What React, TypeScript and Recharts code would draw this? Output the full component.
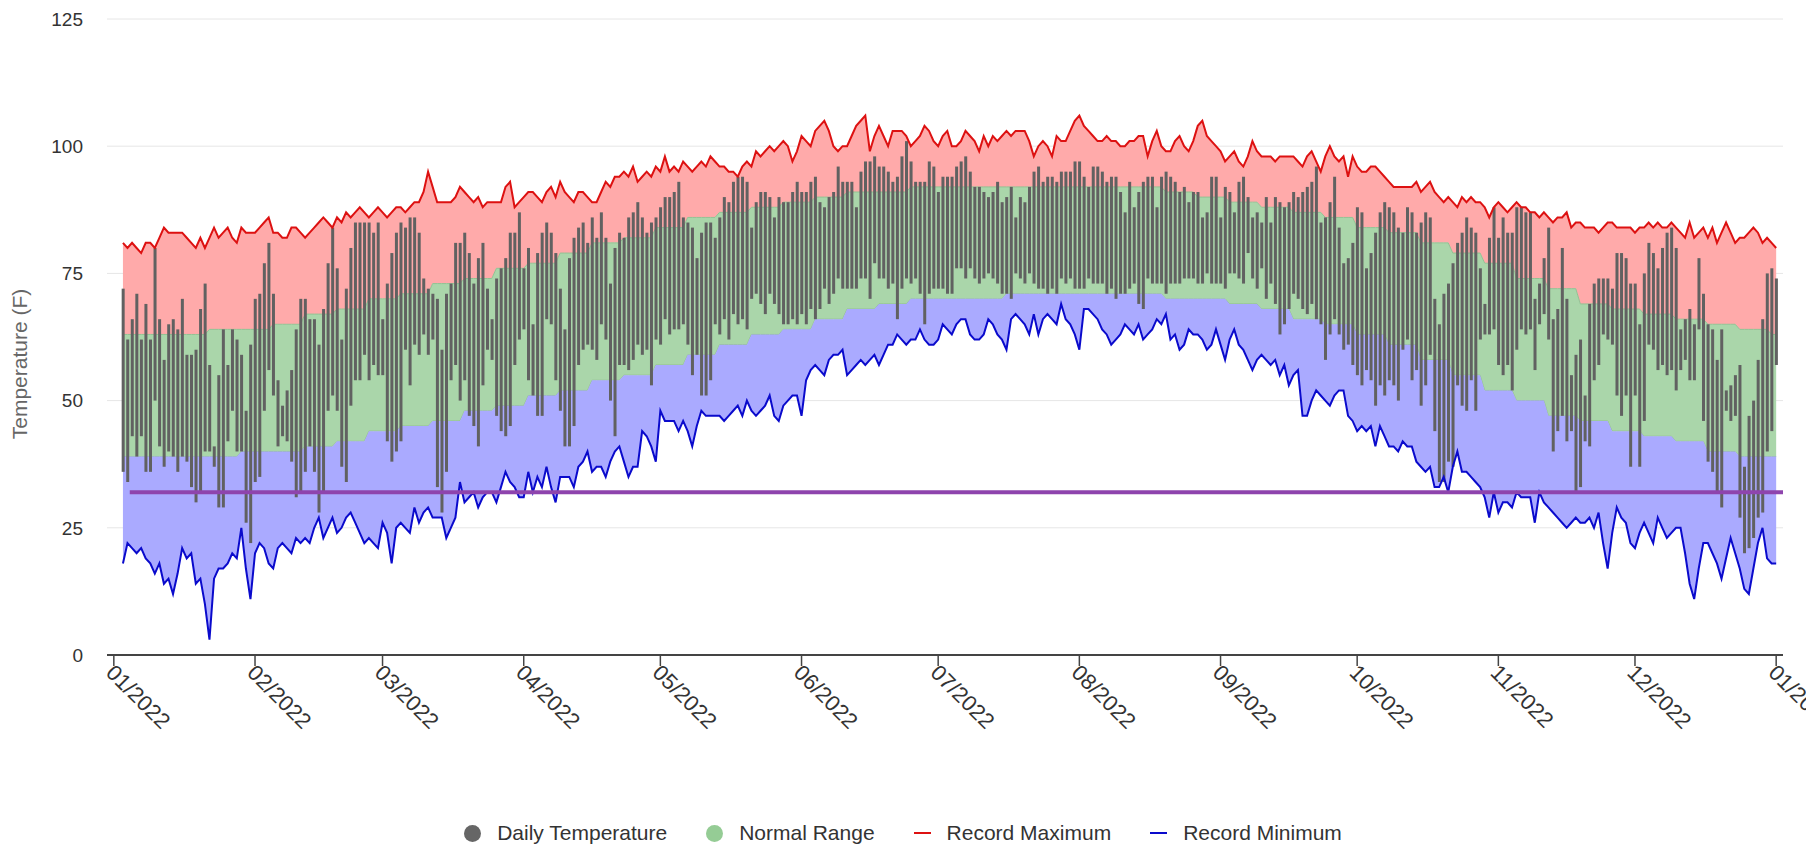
import React from 'react';
import { ComposedChart, Area, Bar, Line, XAxis, YAxis, CartesianGrid, ReferenceLine } from 'recharts';

// month boundaries (days since 01/01/2022) used for the x ticks
const MONTH_STARTS = [0, 31, 59, 90, 120, 151, 181, 212, 243, 273, 304, 334, 365];
const MONTH_LABELS = [
  '01/2022', '02/2022', '03/2022', '04/2022', '05/2022', '06/2022', '07/2022',
  '08/2022', '09/2022', '10/2022', '11/2022', '12/2022', '01/2023',
];
const Y_TICKS = [0, 25, 50, 75, 100, 125];
const FREEZING = 32;
const FIRST_DAY = 2;

// record highs, one per day (Jan 3 .. Dec 31)
const RECORD_MAX = [
  81, 80, 81, 80, 79, 81, 81, 80, 82, 84, 83, 83, 83, 83, 82, 81, 80, 82, 80, 82, 84, 82, 83, 84, 82, 81, 84, 83, 83, 83, 84, 85, 86, 83,
  83, 82, 82, 84, 84, 83, 82, 83, 84, 85, 86, 85, 84, 86, 85, 87, 86, 87, 88, 87, 86, 87, 88, 87, 86, 87, 88, 88, 87, 88, 89, 89, 91, 95, 92, 89, 89,
  89, 89, 90, 92, 91, 90, 89, 90, 88, 89, 89, 89, 89, 92, 93, 88, 89, 90, 91, 91, 90, 89, 91, 92, 90, 93, 91, 90, 89, 91, 91, 90, 89, 89, 91, 93, 92, 94,
  94, 95, 94, 96, 93, 94, 95, 94, 96, 95, 98, 95, 96, 95, 97, 96, 95, 96, 97, 96, 98, 97, 96, 96, 95, 95, 94, 96, 97, 96, 99, 98, 99, 100, 99, 100, 101,
  100, 97, 99, 102, 101, 100, 103, 104, 105, 103, 100, 99, 100, 100, 102, 104, 105, 106, 99, 102, 104, 102, 100, 103, 103, 103, 102, 100, 101, 102, 104, 103, 101, 100, 102, 103, 100,
  100, 101, 103, 102, 101, 99, 102, 100, 102, 101, 102, 103, 102, 103, 103, 103, 101, 98, 100, 101, 100, 98, 102, 101, 101, 103, 105, 106, 104, 103, 102, 101, 101, 102, 101, 101, 100,
  100, 101, 101, 102, 102, 98, 101, 103, 100, 99, 99, 101, 102, 100, 99, 101, 104, 105, 102, 101, 100, 99, 97, 98, 99, 97, 96, 98, 101, 99, 98, 98, 98, 97, 98, 98, 98,
  98, 97, 96, 98, 99, 97, 95, 98, 100, 98, 97, 98, 94, 98, 96, 95, 95, 96, 96, 95, 94, 93, 92, 92, 92, 92, 92, 93, 91, 92, 93, 91, 90, 89, 90, 89, 88, 90,
  89, 90, 89, 89, 88, 86, 88, 89, 88, 87, 88, 89, 88, 88, 87, 87, 86, 87, 86, 85, 86, 86, 87, 84, 85, 85, 84, 84, 84, 83, 84, 85, 85, 84, 84, 84, 84,
  83, 84, 84, 85, 84, 85, 84, 84, 85, 84, 83, 82, 85, 82, 83, 84, 82, 84, 81, 83, 85, 83, 81, 82, 82, 83, 84, 83, 81, 82, 81, 80,
];

// record lows, one per day
const RECORD_MIN = [
  18, 22, 21, 20, 21, 19, 18, 16, 18, 14, 15, 12, 16, 21, 19, 20, 14, 15, 10, 3, 15, 17, 17, 18, 20, 19, 25, 17, 11, 20, 22, 21, 18, 17,
  21, 22, 21, 20, 23, 22, 23, 22, 25, 27, 23, 25, 27, 24, 25, 27, 28, 26, 24, 22, 23, 22, 21, 26, 24, 18, 25, 26, 25, 24, 29, 26, 28, 29, 27, 27, 27,
  23, 25, 27, 34, 30, 31, 32, 29, 31, 32, 32, 30, 33, 36, 34, 33, 31, 31, 36, 32, 35, 33, 37, 33, 30, 35, 35, 35, 33, 37, 38, 40, 36, 37, 37, 35, 38, 40,
  41, 38, 35, 37, 37, 44, 43, 41, 38, 48, 46, 46, 46, 44, 46, 44, 41, 45, 48, 47, 47, 47, 47, 46, 47, 48, 49, 47, 50, 48, 47, 48, 49, 51, 47, 46, 49,
  50, 51, 51, 47, 54, 56, 57, 56, 55, 58, 59, 59, 60, 55, 56, 57, 58, 57, 58, 59, 57, 59, 61, 61, 63, 62, 61, 62, 62, 64, 62, 61, 61, 62, 65, 64, 63,
  65, 66, 66, 63, 62, 62, 63, 66, 65, 63, 62, 60, 66, 67, 66, 65, 63, 67, 63, 66, 67, 66, 65, 69, 66, 65, 63, 60, 68, 68, 67, 66, 64, 63, 61, 62, 63,
  65, 64, 63, 65, 62, 63, 64, 66, 65, 67, 62, 63, 60, 61, 64, 63, 63, 62, 60, 61, 64, 61, 58, 62, 64, 61, 60, 58, 56, 58, 59, 58, 57, 58, 55, 57, 53,
  55, 56, 47, 47, 50, 52, 51, 50, 49, 51, 52, 52, 47, 46, 44, 45, 44, 45, 41, 45, 43, 41, 41, 40, 42, 41, 41, 38, 37, 36, 37, 33, 33, 35, 32, 37, 40, 36,
  36, 35, 34, 33, 31, 27, 32, 28, 30, 30, 29, 32, 31, 31, 31, 26, 32, 30, 29, 28, 27, 26, 25, 26, 27, 26, 26, 27, 25, 28, 22, 17, 24, 29, 27, 26, 22,
  21, 24, 26, 24, 22, 27, 25, 23, 24, 25, 25, 20, 14, 11, 17, 22, 22, 20, 18, 15, 19, 23, 20, 17, 13, 12, 17, 22, 25, 19, 18, 18,
];

// observed daily high / low
const DAILY_HIGH = [
  72, 62, 66, 71, 62, 69, 62, 80, 66, 58, 65, 66, 64, 70, 59, 59, 60, 68, 73, 57, 41, 55, 64, 57, 64, 62, 59, 48, 61, 70, 71, 77, 81, 71,
  54, 49, 52, 56, 64, 70, 70, 66, 66, 61, 68, 77, 84, 76, 62, 72, 80, 85, 85, 85, 85, 83, 85, 66, 73, 79, 83, 85, 84, 86, 86, 83, 74, 72, 71, 70, 60, 71,
  73, 81, 81, 83, 79, 73, 78, 81, 72, 66, 74, 76, 78, 83, 83, 87, 76, 80, 65, 79, 83, 85, 83, 79, 72, 64, 78, 82, 84, 85, 81, 86, 82, 87, 82, 73, 80,
  83, 82, 86, 87, 89, 86, 83, 85, 86, 88, 90, 90, 91, 93, 86, 85, 84, 78, 83, 85, 85, 82, 86, 90, 89, 93, 94, 94, 93, 84, 89, 91, 91, 90, 86, 90, 89,
  89, 91, 93, 91, 91, 93, 94, 89, 88, 90, 91, 96, 93, 93, 93, 88, 95, 97, 97, 98, 96, 96, 95, 93, 94, 98, 101, 97, 93, 93, 93, 97, 96, 91, 94, 94, 94,
  96, 97, 98, 95, 92, 92, 91, 90, 91, 93, 89, 90, 92, 86, 90, 89, 92, 95, 96, 93, 94, 94, 93, 95, 95, 95, 97, 97, 94, 92, 96, 96, 95, 93, 94, 94, 91,
  87, 93, 88, 91, 93, 94, 94, 88, 94, 95, 94, 93, 91, 92, 89, 91, 91, 86, 87, 94, 94, 86, 92, 91, 87, 93, 94, 90, 86, 87, 85, 90, 85, 90, 89, 88, 89,
  91, 90, 91, 92, 93, 96, 85, 86, 89, 94, 84, 77, 78, 81, 88, 87, 76, 79, 83, 87, 89, 88, 87, 84, 83, 88, 87, 83, 85, 87, 86, 70, 65, 71, 73, 77, 81, 83,
  86, 84, 83, 76, 69, 82, 88, 82, 86, 83, 83, 88, 88, 87, 87, 70, 73, 78, 84, 66, 68, 80, 70, 55, 59, 62, 51, 69, 73, 74, 74, 74, 72, 79, 79, 78, 73,
  73, 65, 75, 81, 79, 76, 80, 83, 84, 80, 64, 66, 68, 65, 78, 71, 65, 64, 58, 64, 52, 53, 55, 57, 37, 47, 50, 58, 66, 75, 76, 74,
];

const DAILY_LOW = [
  36, 34, 43, 39, 43, 36, 36, 50, 41, 37, 40, 39, 36, 39, 38, 33, 30, 32, 40, 40, 37, 29, 29, 42, 48, 40, 40, 26, 22, 34, 35, 48, 56, 51,
  41, 43, 42, 38, 31, 32, 36, 41, 36, 28, 32, 48, 51, 48, 37, 34, 49, 54, 54, 59, 54, 57, 55, 55, 42, 38, 40, 42, 60, 53, 61, 59, 63, 59, 62, 33, 28, 36,
  54, 57, 50, 54, 47, 45, 41, 53, 60, 58, 47, 44, 43, 45, 57, 62, 64, 54, 51, 47, 47, 66, 65, 54, 48, 41, 41, 45, 57, 60, 61, 60, 58, 65, 62, 50, 43,
  57, 57, 56, 58, 61, 59, 60, 53, 62, 61, 66, 63, 64, 64, 65, 61, 55, 59, 51, 51, 54, 65, 63, 66, 62, 67, 65, 66, 64, 70, 71, 69, 67, 71, 69, 67, 65,
  65, 66, 65, 67, 65, 68, 66, 68, 72, 69, 71, 74, 72, 72, 72, 72, 74, 74, 70, 77, 74, 74, 72, 73, 66, 72, 74, 73, 74, 71, 65, 71, 72, 72, 72, 71, 71,
  76, 76, 74, 76, 74, 73, 74, 75, 74, 73, 71, 71, 70, 75, 74, 73, 75, 73, 72, 72, 71, 72, 71, 74, 73, 74, 72, 72, 72, 74, 73, 73, 73, 71, 72, 70, 71,
  71, 72, 73, 69, 68, 74, 73, 73, 73, 71, 73, 73, 73, 74, 74, 74, 73, 73, 75, 73, 73, 73, 72, 75, 75, 74, 73, 79, 74, 72, 76, 70, 73, 69, 63, 65, 68,
  71, 70, 68, 67, 69, 66, 65, 58, 63, 66, 63, 60, 61, 57, 55, 53, 56, 54, 49, 53, 51, 54, 53, 50, 60, 62, 54, 56, 49, 53, 59, 44, 34, 34, 38, 37, 53, 49,
  48, 54, 48, 62, 63, 63, 64, 57, 55, 57, 52, 60, 64, 63, 64, 56, 65, 67, 62, 40, 44, 47, 42, 44, 32, 33, 42, 41, 54, 57, 63, 62, 61, 51, 47, 51, 37,
  51, 37, 46, 61, 60, 56, 57, 55, 56, 52, 56, 58, 54, 54, 64, 46, 38, 36, 32, 29, 48, 46, 47, 27, 20, 21, 23, 27, 28, 40, 44, 57,
];

// normal range, one value per week of the year
const NORMAL_HIGH = [
  63, 63, 63, 64, 64, 65, 67, 68, 70, 71, 73, 74, 76, 77, 79, 81, 82, 84, 86, 87, 88, 89, 90, 91, 91, 92,
  92, 92, 92, 92, 92, 92, 92, 91, 90, 89, 88, 87, 86, 84, 83, 81, 79, 77, 74, 72, 69, 68, 67, 66, 65, 64, 63,
];
const NORMAL_LOW = [
  39, 39, 39, 39, 40, 40, 41, 42, 44, 45, 46, 48, 49, 51, 52, 54, 55, 57, 59, 61, 63, 64, 66, 68, 69, 70,
  70, 70, 71, 71, 71, 71, 71, 70, 70, 69, 68, 66, 65, 63, 61, 58, 55, 52, 50, 47, 46, 44, 43, 42, 40, 39, 39,
];

const rows = DAILY_HIGH.map((hi, i) => {
  const day = FIRST_DAY + i;
  const w = Math.floor(day / 7);
  return {
    day,
    temp: [DAILY_LOW[i], hi],
    normal: [NORMAL_LOW[w], NORMAL_HIGH[w]],
    above: [NORMAL_HIGH[w], RECORD_MAX[i]],
    below: [RECORD_MIN[i], NORMAL_LOW[w]],
    recMax: RECORD_MAX[i],
    recMin: RECORD_MIN[i],
  };
});

const FONT = '"Liberation Sans", Arial, Helvetica, sans-serif';

const MonthTick = (props: any) => {
  const { x, payload } = props;
  const ax = x - 9;
  const ay = 655 + 19;
  const idx = MONTH_STARTS.indexOf(payload.value);
  return (
    <text
      x={ax}
      y={ay}
      transform={`rotate(45 ${ax} ${ay})`}
      textAnchor="start"
      fontSize={22}
      fontFamily={FONT}
      fill="#333"
    >
      {MONTH_LABELS[idx]}
    </text>
  );
};

const LegendItem = ({ kind, color, label, last }: { kind: 'dot' | 'line'; color: string; label: string; last?: boolean }) => (
  <div style={{ display: 'flex', alignItems: 'center', marginRight: last ? 0 : 39 }}>
    {kind === 'dot' ? (
      <span style={{ width: 17, height: 17, borderRadius: 9, background: color, display: 'inline-block' }} />
    ) : (
      <span style={{ width: 17, height: 2, background: color, display: 'inline-block' }} />
    )}
    <span style={{ marginLeft: 16 }}>{label}</span>
  </div>
);

export default function App() {
  return (
    <div style={{ position: 'absolute', left: 0, top: 0, width: 1806, height: 849, background: '#fff' }}>
      <ComposedChart
        width={1806}
        height={849}
        data={rows}
        margin={{ top: 19, right: 23, bottom: 0, left: 0 }}
      >
        <CartesianGrid vertical={false} stroke="#e6e6e6" />
        <XAxis
          dataKey="day"
          type="number"
          domain={[-1.5, 366.5]}
          ticks={MONTH_STARTS}
          interval={0}
          height={194}
          tick={<MonthTick />}
          tickSize={11}
          stroke="#333"
          axisLine={{ stroke: '#444', strokeWidth: 2 }}
          tickLine={{ stroke: '#444', strokeWidth: 1.5 }}
        />
        <YAxis
          type="number"
          domain={[0, 125]}
          ticks={Y_TICKS}
          width={107}
          axisLine={false}
          tickLine={false}
          tickSize={0}
          tickMargin={24}
          tick={{ fill: '#333', fontSize: 19, fontFamily: FONT }}
          label={{
            value: 'Temperature (F)',
            angle: -90,
            position: 'insideLeft',
            offset: 20,
            dy: 27,
            style: { fill: '#666', fontSize: 21, fontFamily: FONT, textAnchor: 'middle' },
          }}
        />
        <Area
          dataKey="above"
          type="linear"
          stroke="none"
          fill="#ffaaaa"
          fillOpacity={1}
          isAnimationActive={false}
        />
        <Area
          dataKey="normal"
          type="linear"
          stroke="#93c193"
          strokeWidth={1}
          fill="#aad6aa"
          fillOpacity={1}
          isAnimationActive={false}
        />
        <Area
          dataKey="below"
          type="linear"
          stroke="none"
          fill="#aaaaff"
          fillOpacity={1}
          isAnimationActive={false}
        />
        <Bar dataKey="temp" fill="#616161" barSize={3} isAnimationActive={false} />
        <Line dataKey="recMax" type="linear" stroke="#dd1111" strokeWidth={2} dot={false} isAnimationActive={false} />
        <Line dataKey="recMin" type="linear" stroke="#0a0acc" strokeWidth={2} dot={false} isAnimationActive={false} />
        <ReferenceLine
          segment={[{ x: FIRST_DAY + 1.5, y: FREEZING }, { x: 366.5, y: FREEZING }]}
          stroke="#8e44ad"
          strokeWidth={4}
        />
      </ComposedChart>
      <div
        style={{
          position: 'absolute',
          left: 0,
          top: 821,
          width: 1806,
          display: 'flex',
          justifyContent: 'center',
          fontFamily: FONT,
          fontSize: 21,
          color: '#333',
        }}
      >
        <LegendItem kind="dot" color="#666" label="Daily Temperature" />
        <LegendItem kind="dot" color="#95cc95" label="Normal Range" />
        <LegendItem kind="line" color="#dd1111" label="Record Maximum" />
        <LegendItem kind="line" color="#0a0acc" label="Record Minimum" last />
      </div>
    </div>
  );
}
